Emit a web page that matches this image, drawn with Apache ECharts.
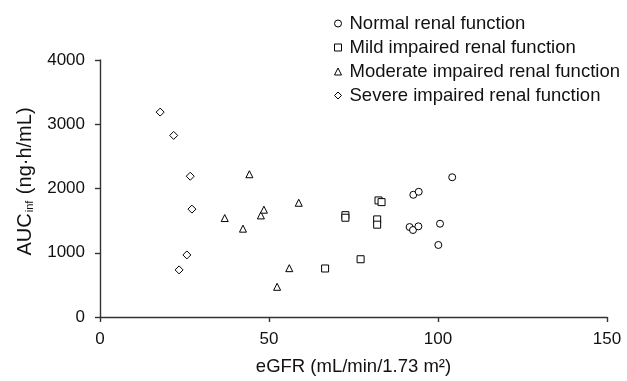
<!DOCTYPE html>
<html>
<head>
<meta charset="utf-8">
<script src="https://cdn.jsdelivr.net/npm/echarts@6/dist/echarts.min.js"></script>
<style>html,body{margin:0;padding:0;background:#fff;}#c{width:627px;height:381px;}</style>
</head>
<body>
<div id="c"></div>
<script>
var seriesNames = ['Normal renal function', 'Mild impaired renal function', 'Moderate impaired renal function', 'Severe impaired renal function'];
var normalData = [[104.2,2175],[92.7,1902],[94.3,1949],[91.6,1400],[92.6,1354],[94.2,1411],[100.6,1452],[100.1,1121]];
var mildData = [[66.6,755],[77.1,899],[72.6,1585],[72.6,1545],[82.0,1519],[82.0,1437],[82.4,1814],[83.3,1788]];
var moderateData = [[44.2,2222],[36.9,1540],[42.3,1375],[47.6,1581],[48.5,1670],[52.4,470],[56.0,760],[58.8,1778]];
var severeData = [[17.8,3189],[21.8,2826],[26.7,2191],[27.2,1679],[25.7,966],[23.4,733]];
var xTicks = [0, 50, 100, 150];
var yTicks = [0, 1000, 2000, 3000, 4000];

var symbols = ['circle', 'rect', 'triangle', 'path://M0,-1L1,0L0,1L-1,0Z'];
var sizes = [7, 7, 7, 8];
var datasets = [normalData, mildData, moderateData, severeData];
var textColor = '#111';
var axisColor = '#333';
var fam = 'Liberation Sans, Arial, sans-serif';

var chart = echarts.init(document.getElementById('c'), null, {renderer: 'canvas'});
chart.setOption({
  animation: false,
  backgroundColor: '#fff',
  textStyle: {fontFamily: fam},
  grid: {left: 100, right: 20, top: 60, bottom: 63},
  legend: {
    orient: 'vertical',
    left: 329, top: 9,
    itemWidth: 7, itemHeight: 7, itemGap: 5,
    textStyle: {fontSize: 18.5, color: textColor, lineHeight: 18, fontFamily: fam, padding: [0, 0, 0, 3]},
    data: seriesNames.map(function (n, i) {
      return {name: n, icon: symbols[i], itemStyle: {color: '#fff', borderColor: '#000', borderWidth: 1}};
    })
  },
  xAxis: {
    type: 'value', min: xTicks[0], max: xTicks[xTicks.length - 1], interval: 50,
    name: 'eGFR (mL/min/1.73 m²)', nameLocation: 'middle', nameGap: 40,
    nameTextStyle: {fontSize: 18.5, color: textColor, fontFamily: fam},
    axisLine: {show: true, lineStyle: {color: axisColor, width: 1.4}},
    axisTick: {show: true, length: 5, lineStyle: {color: axisColor, width: 1.4}},
    axisLabel: {fontSize: 17, color: textColor, margin: 14, formatter: function (v) { return String(v); }},
    splitLine: {show: false}
  },
  yAxis: {
    type: 'value', min: yTicks[0], max: yTicks[yTicks.length - 1], interval: 1000,
    name: '{m|AUC}{s|inf}{m| (ng·h/mL)}', nameLocation: 'middle', nameGap: 65,
    nameTextStyle: {
      padding: [0, 0, 0, 14],
      rich: {
        m: {fontSize: 20, color: textColor, fontFamily: fam},
        s: {fontSize: 11, color: textColor, verticalAlign: 'bottom', padding: [9, 1, 0, 1], fontFamily: fam}
      }
    },
    axisLine: {show: true, lineStyle: {color: axisColor, width: 1.4}},
    axisTick: {show: true, length: 5, lineStyle: {color: axisColor, width: 1.4}},
    axisLabel: {fontSize: 17, color: textColor, margin: 15, formatter: function (v) { return String(v); }},
    splitLine: {show: false}
  },
  series: seriesNames.map(function (n, i) {
    return {
      name: n, type: 'scatter', symbol: symbols[i], symbolSize: sizes[i],
      data: datasets[i],
      itemStyle: {color: '#fff', borderColor: '#000', borderWidth: 1, opacity: 1},
      emphasis: {disabled: true}
    };
  })
});
</script>
</body>
</html>
